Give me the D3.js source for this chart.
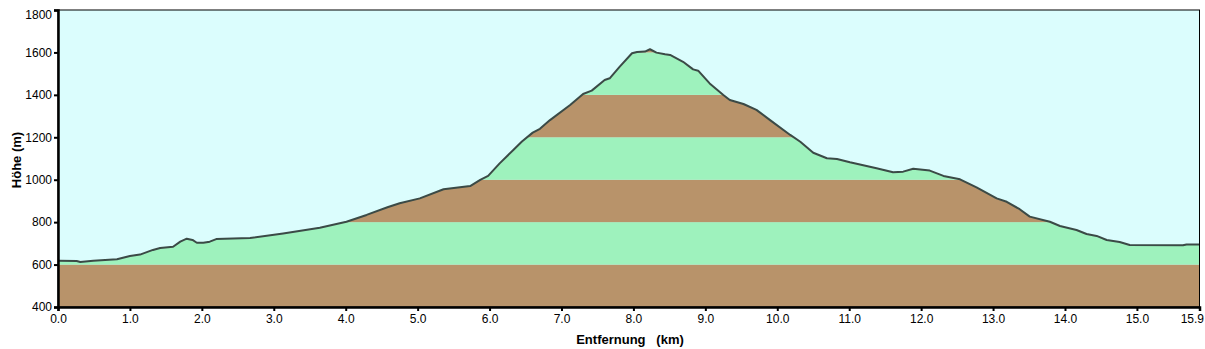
<!DOCTYPE html>
<html><head><meta charset="utf-8">
<script src="https://cdn.jsdelivr.net/npm/d3@7"></script>
<style>
body{margin:0;background:#fff;}
text{font-family:"Liberation Sans",Arial,sans-serif;}
</style></head>
<body><svg id="c" width="1205" height="349"></svg>
<script>
const distKm = [0,0.26,0.31,0.49,0.82,1.0,1.14,1.32,1.42,1.6,1.7,1.79,1.87,1.93,2.02,2.11,2.2,2.67,3.13,3.64,4.01,4.29,4.58,4.75,5.03,5.36,5.73,5.87,5.98,6.14,6.33,6.45,6.6,6.7,6.84,7.12,7.3,7.42,7.6,7.67,7.81,7.98,8.05,8.16,8.23,8.32,8.44,8.51,8.69,8.83,8.9,9.06,9.25,9.34,9.53,9.71,9.9,10.18,10.32,10.5,10.69,10.83,11.01,11.38,11.61,11.75,11.89,12.12,12.31,12.54,12.77,13.05,13.19,13.37,13.51,13.79,13.93,14.16,14.3,14.44,14.58,14.76,14.9,15.64,15.69,15.87];
const elevM = [618,617,612,618,625,640,647,669,678,684,708,722,716,703,703,708,720,725,747,774,802,834,870,889,912,955,970,999,1018,1077,1140,1180,1222,1240,1281,1352,1404,1420,1470,1478,1533,1596,1602,1604,1615,1599,1591,1588,1556,1520,1514,1454,1399,1376,1357,1329,1281,1211,1179,1127,1101,1098,1082,1054,1035,1038,1052,1043,1018,1002,964,912,896,861,826,802,782,763,744,735,716,706,692,691,695,695];
const yTicks = [400,600,800,1000,1200,1400,1600,1800];
const xTicks = [0,1,2,3,4,5,6,7,8,9,10,11,12,13,14,15];
const xMaxKm = 15.87;
const xMaxLabel = "15.9";
const bandEdges = [400,600,800,1000,1200,1400,1600,1800];
const xTitle = "Entfernung   (km)";
const yTitle = "Höhe (m)";

const svg = d3.select("#c");
const L=58, R=1199.5, T=10, B=307;
const x = d3.scaleLinear().domain([0,xMaxKm]).range([L,R]);
const y = d3.scaleLinear().domain([400,1800]).range([B,T]);
const pts = distKm.map((d,i)=>[d,elevM[i]]);

svg.append("rect").attr("x",L).attr("y",T).attr("width",R-L).attr("height",B-T).attr("fill","#dbfdfd");

const area = d3.area().x(d=>x(d[0])).y0(B).y1(d=>y(d[1]));
svg.append("clipPath").attr("id","prof").append("path").attr("d",area(pts));
const g = svg.append("g").attr("clip-path","url(#prof)");
for(let i=0;i<bandEdges.length-1;i++){
  g.append("rect").attr("x",L).attr("width",R-L)
   .attr("y",y(bandEdges[i+1])).attr("height",y(bandEdges[i])-y(bandEdges[i+1]))
   .attr("fill", i%2===0 ? "#b8936a" : "#9ef2bd");
}
const line = d3.line().x(d=>x(d[0])).y(d=>y(d[1]));
svg.append("path").attr("d",line(pts)).attr("fill","none").attr("stroke","#3b4a46").attr("stroke-width",2).attr("stroke-linejoin","round");

svg.append("rect").attr("x",L).attr("y",T).attr("width",R-L).attr("height",B-T).attr("fill","none").attr("stroke","#000").attr("stroke-width",1);

const ya = svg.append("g").attr("transform",`translate(${L},0)`).call(d3.axisLeft(y).tickValues(yTicks).tickSize(4).tickPadding(2).tickFormat(d3.format("d")));
ya.select(".domain").attr("stroke","#000").attr("stroke-width",2.5);
ya.selectAll(".tick line").attr("stroke-width",2);
ya.selectAll("text").attr("font-size",12).attr("fill","#000").attr("font-family","Liberation Sans, Arial, sans-serif");
ya.selectAll(".tick").filter(d=>d===1800).select("text").attr("dy","0.7em");

const xa = svg.append("g").attr("transform",`translate(0,${B})`).call(d3.axisBottom(x).tickValues(xTicks.concat([xMaxKm])).tickSize(4).tickPadding(3).tickFormat(d=> d===xMaxKm ? xMaxLabel : d3.format(".1f")(d)));
xa.select(".domain").attr("stroke","#000").attr("stroke-width",2.5);
xa.selectAll(".tick line").attr("stroke-width",2);
xa.selectAll("text").attr("font-size",12).attr("fill","#000").attr("font-family","Liberation Sans, Arial, sans-serif");
xa.selectAll(".tick").filter(d=>d===xMaxKm).select("text").attr("text-anchor","end").attr("x",4);

svg.append("text").attr("x",630).attr("y",344).attr("text-anchor","middle").attr("font-size",13).attr("font-weight","bold").attr("xml:space","preserve").style("white-space","pre").text(xTitle);
svg.append("text").attr("transform","translate(21,160) rotate(-90)").attr("text-anchor","middle").attr("font-size",13).attr("font-weight","bold").text(yTitle);
</script></body></html>
